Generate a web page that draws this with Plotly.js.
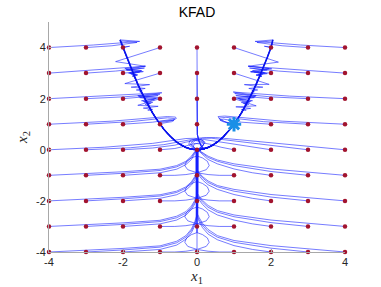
<!DOCTYPE html>
<html><head><meta charset="utf-8">
<script src="https://cdn.plot.ly/plotly-3.0.1.min.js"></script>
<style>html,body{margin:0;padding:0;background:#fff}#plot{width:381px;height:287px}</style>
</head><body><div id="plot"></div>
<script>
// grid of start points
const gridVals = [-4,-3,-2,-1,0,1,2,3,4];
const goalX = [1], goalY = [1];
const tickVals = [-4,-2,0,2,4];
const tickText = ['-4','-2','0','2','4'];

// valley
const valleyLX = [-2.08,-2.0,-1.9,-1.8,-1.7,-1.6,-1.5,-1.4,-1.3,-1.2,-1.1,-1.0,-0.9,-0.8,-0.7,-0.6,-0.5,-0.4,-0.3,-0.2,-0.1,0,0.1,0.2,0.3,0.4,0.5,0.6,0.7,0.8,0.9,1.0];
const valleyLY = [4.3,4.0,3.61,3.24,2.89,2.56,2.25,1.96,1.69,1.44,1.21,1.0,0.81,0.64,0.49,0.36,0.25,0.16,0.09,0.04,0.01,0,0.01,0.04,0.09,0.16,0.25,0.36,0.49,0.64,0.81,1.0];
const valleyRX = [2.05,2.0,1.9,1.8,1.7,1.6,1.5,1.4,1.3,1.2,1.1,1.0];
const valleyRY = [4.3,4.0,3.61,3.24,2.89,2.56,2.25,1.96,1.69,1.44,1.21,1.0];

// trajectories by starting row (approach part, then they follow the valley)
const row4 = [
 {v:'L',x:[-4,-2.8,-1.55,-2.08],y:[4,4.1,4.24,4.3]},
 {v:'L',x:[-3,-2.3,-1.62,-2.04],y:[4,4.07,4.2,4.26]},
 {v:'L',x:[-2,-1.82,-2.01],y:[4,4.05,4.02]},
 {v:'L',x:[-1,-2.2,-1.4,-1.92,-1.5,-1.8,-1.62,-1.72],y:[4,3.45,3.27,3.13,3.08,2.98,2.92,2.9]},
 {v:'L',x:[0,0,0.01,0.05,0.12,0.2],y:[4,1,0.6,0.35,0.12,0.04]},
 {v:'R',x:[1,2.2,1.39,2.02,1.45,1.9,1.6,1.75,1.68],y:[4,3.43,3.27,3.17,3.05,2.98,2.92,2.88,2.85]},
 {v:'R',x:[2,1.82,2.01],y:[4,4.05,4.02]},
 {v:'R',x:[3,2.3,1.62,2.04],y:[4,4.07,4.2,4.26]},
 {v:'R',x:[4,2.8,1.57,2.06],y:[4,4.1,4.24,4.3]}
];
const row3 = [
 {v:'L',x:[-4,-2.7,-1.39,-1.95,-1.5,-1.82,-1.65,-1.74],y:[3,3.12,3.27,3.18,3.1,3.02,2.95,2.92]},
 {v:'L',x:[-3,-2.2,-1.42,-1.9,-1.55,-1.78,-1.71],y:[3,3.08,3.2,3.12,3.04,2.97,2.92]},
 {v:'L',x:[-2,-1.45,-1.85,-1.6,-1.75,-1.68],y:[3,3.06,3.0,2.93,2.88,2.84]},
 {v:'L',x:[-1,-1.95,-1.28,-1.78,-1.4,-1.64,-1.48,-1.55],y:[3,2.59,2.55,2.45,2.4,2.34,2.3,2.27]},
 {v:'L',x:[0,0,0.01,0.05,0.12,0.2],y:[3,1,0.6,0.35,0.12,0.04]},
 {v:'R',x:[1,1.95,1.28,1.78,1.4,1.64,1.48,1.55],y:[3,2.56,2.55,2.45,2.4,2.34,2.3,2.27]},
 {v:'R',x:[2,1.45,1.85,1.6,1.75,1.68],y:[3,3.06,3.0,2.93,2.88,2.84]},
 {v:'R',x:[3,2.2,1.42,1.9,1.55,1.78,1.71],y:[3,3.08,3.2,3.12,3.04,2.97,2.92]},
 {v:'R',x:[4,2.7,1.38,1.95,1.5,1.82,1.65,1.74],y:[3,3.12,3.27,3.18,3.1,3.02,2.95,2.92]}
];
const row2 = [
 {v:'L',x:[-4,-2.5,-0.95,-1.6,-1.05,-1.5,-1.2,-1.4,-1.3],y:[2,2.1,2.23,2.12,2.03,1.92,1.85,1.78,1.72]},
 {v:'L',x:[-3,-2,-1.0,-1.58,-1.1,-1.45,-1.25,-1.35],y:[2,2.07,2.18,2.08,2.0,1.9,1.82,1.78]},
 {v:'L',x:[-2,-1.05,-1.55,-1.15,-1.42,-1.28,-1.33],y:[2,2.12,2.04,1.96,1.86,1.8,1.76]},
 {v:'L',x:[-1,-1.6,-1.05,-1.45,-1.2,-1.33,-1.25],y:[2,1.74,1.7,1.63,1.58,1.55,1.56]},
 {v:'L',x:[0,0,0.01,0.05,0.12,0.2],y:[2,1,0.6,0.35,0.12,0.04]},
 {v:'R',x:[1,1.6,1.05,1.45,1.2,1.33,1.25],y:[2,1.72,1.68,1.62,1.57,1.55,1.56]},
 {v:'R',x:[2,1.05,1.55,1.15,1.42,1.28,1.33],y:[2,2.12,2.04,1.96,1.86,1.8,1.76]},
 {v:'R',x:[3,2,1.02,1.58,1.1,1.45,1.25,1.35],y:[2,2.07,2.2,2.08,2.0,1.9,1.82,1.78]},
 {v:'R',x:[4,2.5,0.98,1.6,1.05,1.5,1.2,1.4,1.3],y:[2,2.1,2.26,2.12,2.03,1.92,1.85,1.78,1.72]}
];
const row1 = [
 {v:'L',x:[-4,-2.3,-0.8,-0.58,-0.56,-0.65,-1.05],y:[1,1.12,1.3,1.28,1.22,1.16,1.1]},
 {v:'L',x:[-3,-1.8,-0.8,-0.6,-0.62,-0.75,-1.03],y:[1,1.1,1.25,1.22,1.17,1.12,1.06]},
 {v:'L',x:[-2,-1.2,-0.72,-0.62,-0.68,-0.85,-1.01],y:[1,1.08,1.18,1.15,1.1,1.06,1.02]},
 {v:'L',x:[-1],y:[1]},
 {v:'L',x:[0,0.01,0.05,0.12,0.2],y:[1,0.6,0.35,0.12,0.04]},
 {v:'R',x:[2,1.2,0.72,0.62,0.7,0.88,1.0],y:[1,1.08,1.2,1.16,1.1,1.03,1.0]},
 {v:'R',x:[3,1.8,0.78,0.6,0.63,0.8,1.0],y:[1,1.1,1.27,1.24,1.17,1.07,1.0]},
 {v:'R',x:[4,2.3,0.75,0.57,0.6,0.75,1.0],y:[1,1.12,1.32,1.3,1.22,1.1,1.0]}
];
const row0 = [
 {v:'L',x:[-4,-2.5,-1.2,-0.6,-0.3,-0.05,0.15,0.2,0.1,0.0],y:[0,0.1,0.25,0.38,0.44,0.45,0.38,0.25,0.08,0.0]},
 {v:'L',x:[-3,-1.8,-0.9,-0.45,-0.15,0.1,0.22,0.15,0.0],y:[0,0.08,0.2,0.32,0.4,0.4,0.3,0.15,0.0]},
 {v:'L',x:[-2,-1.2,-0.6,-0.3,-0.05,0.15,0.18,0.05],y:[0,0.07,0.18,0.3,0.36,0.32,0.18,0.02]},
 {v:'L',x:[-1,-0.6,-0.3,-0.05,0.12,0.15,0.05],y:[0,0.05,0.15,0.25,0.22,0.12,0.02]},
 {v:'L',x:[0],y:[0]},
 {v:'L',x:[1,0.65,0.35,0.1,-0.08,-0.1,0.0,0.05],y:[0,0.1,0.22,0.28,0.22,0.1,0.02,0.0]},
 {v:'L',x:[2,1.3,0.8,0.45,0.2,-0.05,-0.15,-0.05,0.03],y:[0,0.15,0.27,0.36,0.4,0.36,0.22,0.06,0.0]},
 {v:'L',x:[3,2,1.2,0.7,0.4,0.15,-0.1,-0.18,-0.08,0.02],y:[0,0.17,0.3,0.4,0.45,0.45,0.37,0.22,0.06,0.0]},
 {v:'L',x:[4,2.5,1.5,0.9,0.5,0.25,0.0,-0.2,-0.22,-0.1,0.0],y:[0,0.2,0.33,0.42,0.48,0.48,0.45,0.35,0.2,0.05,0.0]}
];
const rowM1 = [
 {v:'L',x:[-4,-3,-2,-1,-0.55,-0.3,-0.15,-0.05],y:[-1,-0.93,-0.86,-0.76,-0.62,-0.45,-0.25,-0.05]},
 {v:'L',x:[-3,-2,-1,-0.55,-0.3,-0.15,-0.05],y:[-1,-0.92,-0.81,-0.67,-0.5,-0.3,-0.08]},
 {v:'L',x:[-2,-1.5,-1,-0.55,-0.3,-0.15,-0.05],y:[-1,-0.96,-0.9,-0.76,-0.58,-0.38,-0.12]},
 {v:'L',x:[-1,-0.6,-0.3,0.0,0.25,0.33,0.28,0.15,0.0,0.0],y:[-1,-1,-0.97,-0.9,-0.78,-0.62,-0.45,-0.32,-0.24,-0.08]},
 {v:'L',x:[0,0],y:[-1,-0.1]},
 {v:'L',x:[1,0.6,0.3,0.0,-0.25,-0.33,-0.28,-0.15,0.0,0.0],y:[-1,-1,-0.97,-0.9,-0.78,-0.62,-0.45,-0.32,-0.24,-0.08]},
 {v:'L',x:[2,1.5,1,0.55,0.3,0.15,0.05],y:[-1,-0.9,-0.75,-0.55,-0.38,-0.2,-0.05]},
 {v:'L',x:[3,2,1,0.55,0.3,0.15,0.05],y:[-1,-0.85,-0.62,-0.45,-0.3,-0.15,-0.03]},
 {v:'L',x:[4,3,2,1,0.55,0.3,0.15,0.05],y:[-1,-0.88,-0.75,-0.55,-0.4,-0.25,-0.12,-0.02]}
];
const rowM2 = [
 {v:'L',x:[-4,-3,-2,-1,-0.55,-0.3,-0.15,-0.06,-0.018,-0.018],y:[-2,-1.93,-1.86,-1.76,-1.62,-1.45,-1.25,-1.05,-0.9,-0.08]},
 {v:'L',x:[-3,-2,-1,-0.55,-0.3,-0.15,-0.06,-0.018,-0.018],y:[-2,-1.92,-1.81,-1.67,-1.5,-1.3,-1.1,-0.95,-0.08]},
 {v:'L',x:[-2,-1.5,-1,-0.55,-0.3,-0.15,-0.06,-0.018,-0.018],y:[-2,-1.96,-1.9,-1.76,-1.58,-1.38,-1.18,-1.02,-0.08]},
 {v:'L',x:[-1,-0.6,-0.3,0.0,0.25,0.33,0.28,0.15,0.0,0.0],y:[-2,-2,-1.97,-1.9,-1.78,-1.62,-1.45,-1.32,-1.24,-0.08]},
 {v:'L',x:[0,0],y:[-2,-0.1]},
 {v:'L',x:[1,0.6,0.3,0.0,-0.25,-0.33,-0.28,-0.15,0.0,0.0],y:[-2,-2,-1.97,-1.9,-1.78,-1.62,-1.45,-1.32,-1.24,-0.08]},
 {v:'L',x:[2,1.5,1,0.55,0.3,0.15,0.06,0.018,0.018],y:[-2,-1.9,-1.75,-1.55,-1.37,-1.18,-1.02,-0.92,-0.08]},
 {v:'L',x:[3,2,1,0.55,0.3,0.15,0.06,0.018,0.018],y:[-2,-1.85,-1.62,-1.45,-1.28,-1.1,-0.95,-0.85,-0.08]},
 {v:'L',x:[4,3,2,1,0.55,0.3,0.15,0.06,0.018,0.018],y:[-2,-1.88,-1.75,-1.55,-1.4,-1.22,-1.05,-0.9,-0.8,-0.08]}
];
const rowM3 = [
 {v:'L',x:[-4,-3,-2,-1,-0.55,-0.3,-0.15,-0.06,-0.018,-0.018],y:[-3,-2.93,-2.86,-2.76,-2.6,-2.42,-2.2,-1.98,-1.8,-0.08]},
 {v:'L',x:[-3,-2,-1,-0.55,-0.3,-0.15,-0.06,-0.018,-0.018],y:[-3,-2.92,-2.81,-2.66,-2.48,-2.26,-2.05,-1.88,-0.08]},
 {v:'L',x:[-2,-1.5,-1,-0.55,-0.3,-0.15,-0.06,-0.018,-0.018],y:[-3,-2.96,-2.9,-2.75,-2.56,-2.34,-2.12,-1.95,-0.08]},
 {v:'L',x:[-1,-0.6,-0.3,0.0,0.25,0.33,0.28,0.15,0.0,0.0],y:[-3,-3,-2.97,-2.9,-2.78,-2.62,-2.45,-2.32,-2.24,-0.08]},
 {v:'L',x:[0,0],y:[-3,-0.1]},
 {v:'L',x:[1,0.6,0.3,0.0,-0.25,-0.33,-0.28,-0.15,0.0,0.0],y:[-3,-3,-2.97,-2.9,-2.78,-2.62,-2.45,-2.32,-2.24,-0.08]},
 {v:'L',x:[2,1.5,1,0.55,0.3,0.15,0.06,0.018,0.018],y:[-3,-2.9,-2.75,-2.55,-2.35,-2.14,-1.96,-1.85,-0.08]},
 {v:'L',x:[3,2,1,0.55,0.3,0.15,0.06,0.018,0.018],y:[-3,-2.85,-2.62,-2.44,-2.25,-2.05,-1.88,-1.78,-0.08]},
 {v:'L',x:[4,3,2,1,0.55,0.3,0.15,0.06,0.018,0.018],y:[-3,-2.88,-2.75,-2.55,-2.38,-2.18,-1.98,-1.82,-1.72,-0.08]}
];
const rowM4 = [
 {v:'L',x:[-4,-3,-2,-1,-0.55,-0.3,-0.15,-0.06,-0.018,-0.018],y:[-4,-3.93,-3.86,-3.76,-3.58,-3.36,-3.1,-2.82,-2.6,-0.08]},
 {v:'L',x:[-3,-2,-1,-0.55,-0.3,-0.15,-0.06,-0.018,-0.018],y:[-4,-3.92,-3.81,-3.64,-3.42,-3.16,-2.9,-2.68,-0.08]},
 {v:'L',x:[-2,-1.5,-1,-0.55,-0.3,-0.15,-0.06,-0.018,-0.018],y:[-4,-3.96,-3.9,-3.73,-3.5,-3.24,-2.98,-2.76,-0.08]},
 {v:'L',x:[-1,-0.6,-0.3,0.0,0.25,0.33,0.28,0.15,0.0,0.0],y:[-4,-4,-3.97,-3.9,-3.78,-3.62,-3.45,-3.32,-3.24,-0.08]},
 {v:'L',x:[0,0],y:[-4,-0.1]},
 {v:'L',x:[1,0.6,0.3,0.0,-0.25,-0.33,-0.28,-0.15,0.0,0.0],y:[-4,-4,-3.97,-3.9,-3.78,-3.62,-3.45,-3.32,-3.24,-0.08]},
 {v:'L',x:[2,1.5,1,0.55,0.3,0.15,0.06,0.018,0.018],y:[-4,-3.9,-3.75,-3.52,-3.3,-3.05,-2.82,-2.66,-0.08]},
 {v:'L',x:[3,2,1,0.55,0.3,0.15,0.06,0.018,0.018],y:[-4,-3.85,-3.62,-3.42,-3.2,-2.96,-2.74,-2.6,-0.08]},
 {v:'L',x:[4,3,2,1,0.55,0.3,0.15,0.06,0.018,0.018],y:[-4,-3.88,-3.75,-3.55,-3.36,-3.12,-2.88,-2.66,-2.52,-0.08]}
];

const allRows = [row4,row3,row2,row1,row0,rowM1,rowM2,rowM3,rowM4];
const lx = [], ly = [];
allRows.forEach(row => row.forEach(t => {
  const last = t.x[t.x.length-1];
  const xs = t.x.slice(), ys = t.y.slice();
  if (t.v === 'L') {
    valleyLX.forEach((vx,i) => { if (vx >= last - 1e-9) { xs.push(vx); ys.push(valleyLY[i]); } });
  } else {
    valleyRX.forEach((vx,i) => { if (vx <= last + 1e-9) { xs.push(vx); ys.push(valleyRY[i]); } });
  }
  lx.push(...xs, null); ly.push(...ys, null);
}));

const dotX = [], dotY = [];
gridVals.forEach(a => gridVals.forEach(b => { dotX.push(a); dotY.push(b); }));

const traces = [
  {type:'scatter', mode:'lines', x:lx, y:ly, connectgaps:false, hoverinfo:'skip',
   line:{color:'rgba(20,30,255,0.65)', width:0.9}},
  {type:'scatter', mode:'lines', x:valleyLX, y:valleyLY, line:{color:'rgb(10,20,235)', width:1.6}},
  {type:'scatter', mode:'lines', x:valleyRX, y:valleyRY, line:{color:'rgb(10,20,235)', width:1.6}},
  {type:'scatter', mode:'markers', x:dotX, y:dotY, cliponaxis:false,
   marker:{color:'#a2142f', size:4.5}},
  {type:'scatter', mode:'markers', x:goalX, y:goalY, cliponaxis:false,
   marker:{symbol:'asterisk-open', size:12, color:'#1a8fe6', line:{color:'#1a8fe6', width:3}}}
];

const axisCommon = {
  showline:true, linecolor:'#a8a8a8', linewidth:1, ticks:'inside', ticklen:3, tickcolor:'#a8a8a8',
  showgrid:false, zeroline:false, mirror:false,
  tickfont:{family:'Liberation Sans, Arial, sans-serif', size:11, color:'#262626'}
};
const layout = {
  width:381, height:287, margin:{l:49, r:36, t:22, b:35},
  paper_bgcolor:'#fff', plot_bgcolor:'#fff', showlegend:false,
  title:{text:'KFAD', font:{family:'Liberation Sans, Arial, sans-serif', size:14, color:'#000'},
         x:0.5, xref:'paper', xanchor:'center', y:0.958, yref:'container', yanchor:'middle'},
  xaxis:Object.assign({}, axisCommon, {range:[-4,4], tickvals:tickVals, ticktext:tickText,
    title:{text:'<i>x</i><sub>1</sub>', font:{family:'Liberation Serif, serif', size:15, color:'#262626'}, standoff:0}}),
  yaxis:Object.assign({}, axisCommon, {range:[-4,5], tickvals:tickVals, ticktext:tickText,
    title:{text:'<i>x</i><sub>2</sub>', font:{family:'Liberation Serif, serif', size:15, color:'#262626'}, standoff:4}})
};
Plotly.newPlot('plot', traces, layout, {displayModeBar:false, staticPlot:true});
</script></body></html>
